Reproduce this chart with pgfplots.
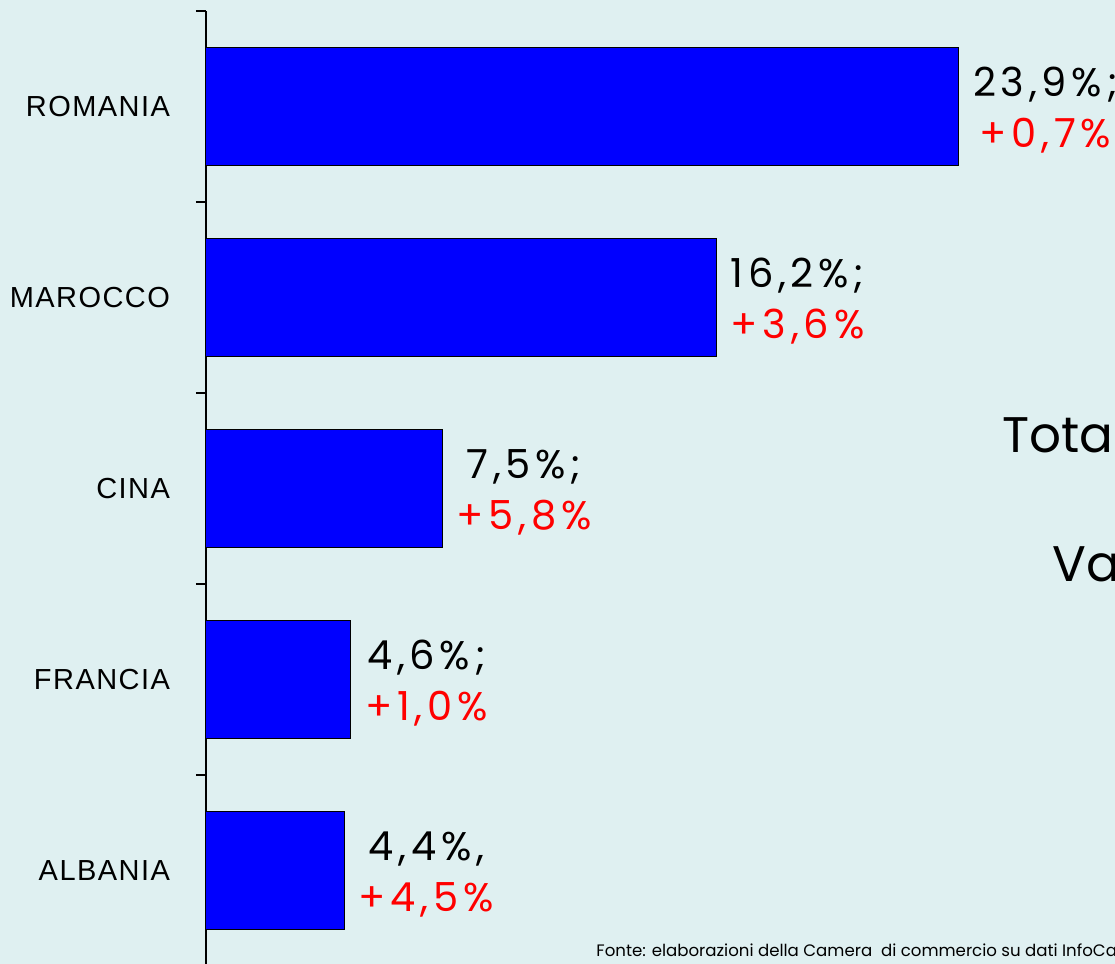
\documentclass[border=0pt]{standalone}
\usepackage{pgfplots}
\pgfplotsset{compat=1.18}
\usepackage{fontspec}
\setmainfont{Liberation Sans}
\newfontfamily\gothic{Poppins}
\newfontfamily\gothicsp[LetterSpace=12]{Poppins}
\newfontfamily\tickfont[LetterSpace=5]{Liberation Sans}
\definecolor{bg}{RGB}{223,240,241}
\definecolor{barblue}{RGB}{0,0,255}
\newcommand\barlabel[1]{%
  \ifcase#1\relax
    4,4\%,\\\textcolor{red}{+4,5\%}%
  \or 4,6\%;\\\textcolor{red}{+1,0\%}%
  \or 7,5\%;\\\textcolor{red}{+5,8\%}%
  \or 16,2\%;\\\textcolor{red}{+3,6\%}%
  \or 23,9\%;\\\textcolor{red}{+0,7\%}%
  \fi}
\begin{document}
\begin{tikzpicture}
\useasboundingbox (0,0) rectangle (557.5pt,482pt);
\fill[bg] (0,0) rectangle (557.5pt,482pt);
\begin{axis}[
  at={(103pt,-1pt)}, anchor=south west,
  scale only axis, width=454.5pt, height=477.5pt,
  xmin=0, xmax=28.857, ymin=-0.5, ymax=4.5,
  xbar, bar width=0.618,
  axis x line=none, axis y line*=left,
  axis line style={black, line width=0.6pt},
  ytick={0,1,2,3,4},
  yticklabels={ALBANIA,FRANCIA,CINA,MAROCCO,ROMANIA},
  major tick length=0pt,
  minor ytick={-0.5,0.5,1.5,2.5,3.5,4.5},
  minor tick length=5pt,
  tick align=outside,
  minor tick style={black, line width=0.6pt},
  yticklabel style={font=\tickfont\fontsize{14.5}{17}\selectfont, xshift=-14.5pt},
  point meta=explicit symbolic,
  nodes near coords={\barlabel{\pgfplotspointmeta}},
  nodes near coords style={font=\gothicsp\fontsize{20}{25.5}\selectfont, align=center, anchor=west, xshift=3.5pt, yshift=-2pt, text=black},
  clip=false,
]
\addplot[fill=barblue, draw=black, line width=0.5pt] coordinates {
  (4.4,0) [0] (4.6,1) [1] (7.5,2) [2] (16.2,3) [3] (23.9,4) [4]
};
\end{axis}
\node[anchor=base west, font=\gothic\fontsize{25}{30}\selectfont, inner sep=0] at (501pt,255.5pt) {Totale stranieri};
\node[anchor=base west, font=\gothic\fontsize{25}{30}\selectfont, inner sep=0] at (526pt,191pt) {Variazione};
\node[anchor=base west, font=\gothic\fontsize{8.3}{10}\selectfont, inner sep=0] at (298pt,3.5pt) {Fonte: elaborazioni della Camera\ \ di commercio su dati InfoCamere};
\end{tikzpicture}
\end{document}
